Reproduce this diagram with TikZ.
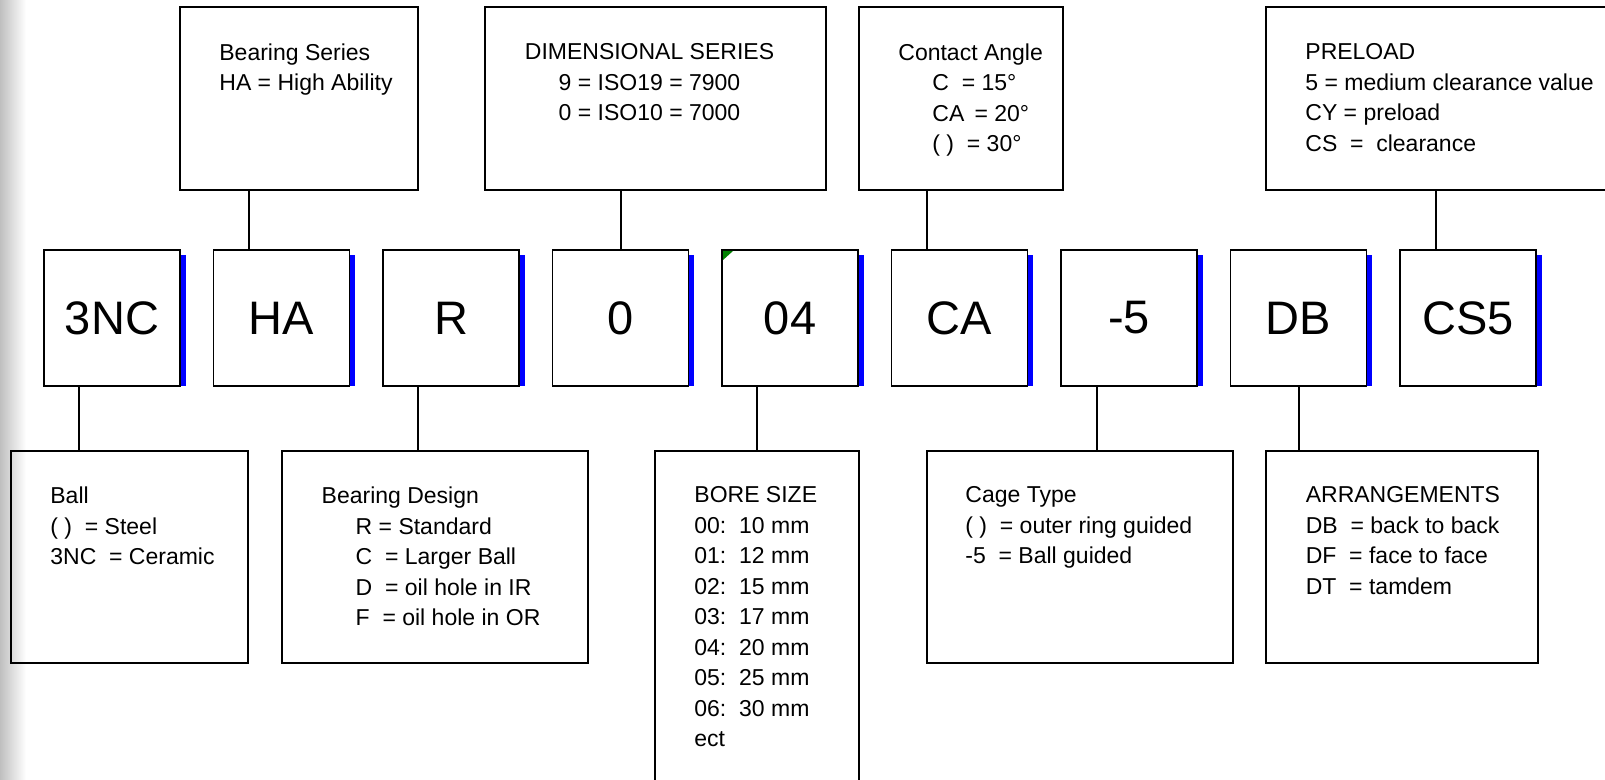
\documentclass[tikz,border=0pt]{standalone}
\usepackage{fontspec}
\setmainfont{Liberation Sans}
\usetikzlibrary{positioning}

\begin{document}
\begin{tikzpicture}[
            x=0.5pt, y=-0.5pt,
            code/.style={draw, line width=0.8pt, minimum width=68pt, minimum height=68pt, inner sep=0pt, outer sep=0pt, font=\fontsize{23.5pt}{28pt}\selectfont},
            descbox/.style={draw, line width=1pt, inner sep=0pt, outer sep=0pt},
            desc/.style={anchor=north west, inner sep=0pt, align=left, font=\fontsize{11.5pt}{15.25pt}\selectfont},
            link/.style={line width=1pt},
            edge/.style={fill=blue},
            node distance=16.75pt
        ]
        \useasboundingbox (0,0) rectangle (1605,780);
        \shade[left color=gray!50, right color=white] (0,0) rectangle (26,780);

        % Code row
        \node[code] (c3nc) at (112,318) {3NC};
        \node[code, right=of c3nc] (cha) {HA};
        \node[code, right=of cha] (cr) {R};
        \node[code, right=of cr] (czero) {0};
        \node[code, right=of czero] (cbore) {04};
        \node[code, right=of cbore] (cca) {CA};
        \node[code, right=of cca] (ccage) {-5};
        \node[code, right=of ccage] (cdb) {DB};
        \node[code, right=of cdb] (ccs) {CS5};

        % Blue edges
        \fill[edge] ([xshift=0.4pt,yshift=-2.5pt]c3nc.north east) rectangle ([xshift=2.8pt]c3nc.south east);
        \fill[edge] ([xshift=0.4pt,yshift=-2.5pt]cha.north east) rectangle ([xshift=2.8pt]cha.south east);
        \fill[edge] ([xshift=0.4pt,yshift=-2.5pt]cr.north east) rectangle ([xshift=2.8pt]cr.south east);
        \fill[edge] ([xshift=0.4pt,yshift=-2.5pt]czero.north east) rectangle ([xshift=2.8pt]czero.south east);
        \fill[edge] ([xshift=0.4pt,yshift=-2.5pt]cbore.north east) rectangle ([xshift=2.8pt]cbore.south east);
        \fill[edge] ([xshift=0.4pt,yshift=-2.5pt]cca.north east) rectangle ([xshift=2.8pt]cca.south east);
        \fill[edge] ([xshift=0.4pt,yshift=-2.5pt]ccage.north east) rectangle ([xshift=2.8pt]ccage.south east);
        \fill[edge] ([xshift=0.4pt,yshift=-2.5pt]cdb.north east) rectangle ([xshift=2.8pt]cdb.south east);
        \fill[edge] ([xshift=0.4pt,yshift=-2.5pt]ccs.north east) rectangle ([xshift=2.8pt]ccs.south east);
        \fill[green!50!black] ([shift={(1,1)}]cbore.north west) -- ++(10,0) -- ++(-10,9) -- cycle;

        % Upper descriptions
        \node[descbox, minimum width=119.2pt, minimum height=91.4pt] (series) at (299.2,98.7) {};
        \node[descbox, minimum width=170.5pt, minimum height=91.4pt] (dims) at (655.5,98.7) {};
        \node[descbox, minimum width=102pt, minimum height=91.4pt] (angle) at (961,98.7) {};
        \node[descbox, minimum width=173pt, minimum height=91.4pt] (preload) at (1439,98.7) {};

        \node[desc] (seriestxt) at ([shift={(39,36)}]series.north west) {Bearing Series\\HA = High Ability};
        \node[desc, anchor=north, align=center] (dimstxt) at ([shift={(-6,36)}]dims.north) {DIMENSIONAL SERIES\\9 = ISO19 = 7900\\0 = ISO10 = 7000};
        \node[desc] (angletxt) at ([shift={(39,36)}]angle.north west) {Contact Angle\\\hspace*{17pt}C~~= 15°\\\hspace*{17pt}CA~\,= 20°\\\hspace*{17pt}( )~~= 30°};
        \node[desc] (preloadtxt) at ([shift={(39,36)}]preload.north west) {PRELOAD\\5 = medium clearance value\\CY = preload\\CS~~=~~clearance};

        % Lower descriptions
        \node[descbox, minimum width=118.5pt, minimum height=106pt] (ball) at (129.5,556.5) {};
        \node[descbox, minimum width=153pt, minimum height=106pt] (design) at (435.3,556.5) {};
        \node[descbox, minimum width=102pt, minimum height=180pt] (bore) at (757,630.5) {};
        \node[descbox, minimum width=153pt, minimum height=106pt] (cage) at (1080,556.5) {};
        \node[descbox, minimum width=135.8pt, minimum height=106pt] (arrange) at (1402.2,556.5) {};

        \node[desc] (balltxt) at ([shift={(39,36)}]ball.north west) {Ball\\( )~~= Steel\\3NC~~= Ceramic};
        \node[desc] (designtxt) at ([shift={(39,36)}]design.north west) {Bearing Design\\\hspace*{17pt}R = Standard\\\hspace*{17pt}C~~= Larger Ball\\\hspace*{17pt}D~~= oil hole in IR\\\hspace*{17pt}F~~= oil hole in OR};
        \node[desc] (boretxt) at ([shift={(39,36)}]bore.north west) {BORE SIZE\\00:~~10 mm\\01:~~12 mm\\02:~~15 mm\\03:~~17 mm\\04:~~20 mm\\05:~~25 mm\\06:~~30 mm\\ect};
        \node[desc] (cagetxt) at ([shift={(38,36)}]cage.north west) {Cage Type\\( )~~= outer ring guided\\-5~~= Ball guided};
        \node[desc] (arrangetxt) at ([shift={(39,36)}]arrange.north west) {ARRANGEMENTS\\DB~~= back to back\\DF~~= face to face\\DT~~= tamdem};

        % Links up
        \coordinate (haup) at ([xshift=17.5pt]cha.north west);
        \coordinate (caup) at ([xshift=17.5pt]cca.north west);
        \coordinate (csup) at ([xshift=18pt]ccs.north west);
        \draw[link] (haup) -- (haup |- series.south);
        \draw[link] (czero.north) -- (czero.north |- dims.south);
        \draw[link] (caup) -- (caup |- angle.south);
        \draw[link] (csup) -- (csup |- preload.south);

        % Links down
        \coordinate (balldn) at ([xshift=17.5pt]c3nc.south west);
        \coordinate (rdn) at ([xshift=17.5pt]cr.south west);
        \coordinate (boredn) at ([xshift=17.5pt]cbore.south west);
        \coordinate (cagedn) at ([xshift=18pt]ccage.south west);
        \draw[link] (balldn) -- (balldn |- ball.north);
        \draw[link] (rdn) -- (rdn |- design.north);
        \draw[link] (boredn) -- (boredn |- bore.north);
        \draw[link] (cagedn) -- (cagedn |- cage.north);
        \draw[link] (cdb.south) -- (cdb.south |- arrange.north);
    \end{tikzpicture}
\end{document}
